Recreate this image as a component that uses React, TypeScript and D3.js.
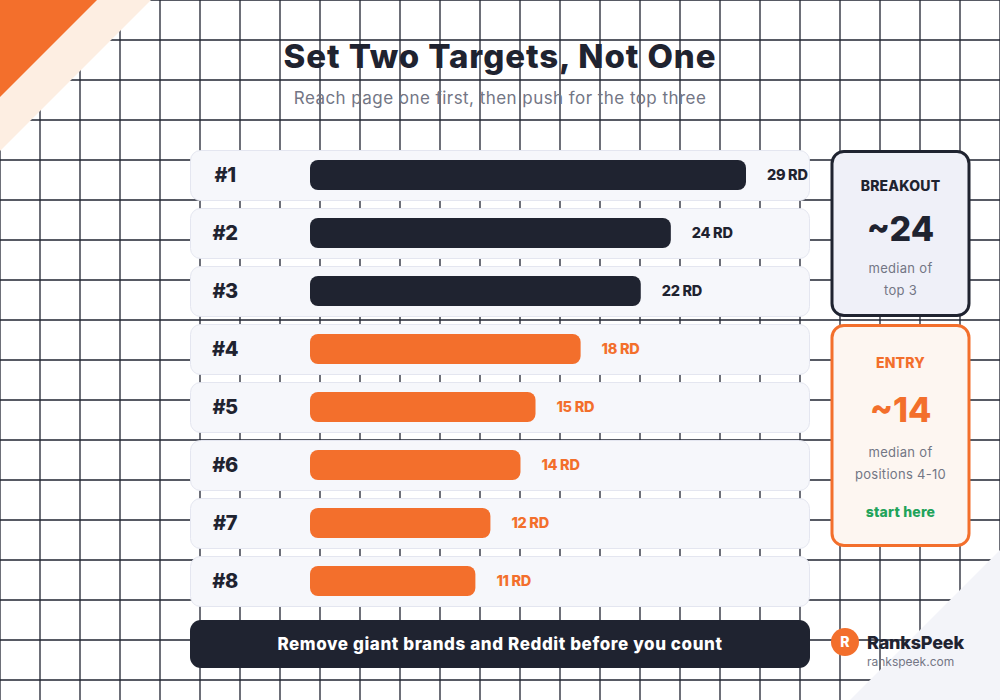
import React from "react";
import * as d3 from "d3";

const ranks = ["#1", "#2", "#3", "#4", "#5", "#6", "#7", "#8"];
const rdValues = [29, 24, 22, 18, 15, 14, 12, 11];
const groups = ["top", "top", "top", "entry", "entry", "entry", "entry", "entry"];
const valueSuffix = " RD";

const title = "Set Two Targets, Not One";
const subtitle = "Reach page one first, then push for the top three";
const footerText = "Remove giant brands and Reddit before you count";

const breakoutLabel = "BREAKOUT";
const breakoutValue = "~24";
const breakoutNote = ["median of", "top 3"];
const entryLabel = "ENTRY";
const entryValue = "~14";
const entryNote = ["median of", "positions 4-10"];
const entryCta = "start here";

const brandName = "RanksPeek";
const brandUrl = "rankspeek.com";

const DARK = "#1f2330";
const ORANGE = "#f36f2c";
const FONT = "Inter, 'Noto Sans', sans-serif";

export default function App() {
  const W = 1000;
  const H = 700;
  const x = d3.scaleLinear().domain([0, 29]).range([310, 746]);
  const y = d3
    .scaleBand<string>()
    .domain(ranks)
    .range([150, 606])
    .paddingInner(8 / 58)
    .paddingOuter(0);
  const bandH = y.bandwidth();

  const gridX = d3.range(0, W + 1, 40);
  const gridY = d3.range(0, H + 1, 40);

  return (
    <svg
      width={W}
      height={H}
      style={{ position: "absolute", left: 0, top: 0, background: "#fff" }}
      fontFamily={FONT}
    >
      <rect x={0} y={0} width={W} height={H} fill="#ffffff" />
      <g stroke={DARK} strokeWidth={1.3}>
        {gridX.map((gx) => (
          <line key={"gx" + gx} x1={gx} x2={gx} y1={0} y2={H} />
        ))}
        {gridY.map((gy) => (
          <line key={"gy" + gy} x1={0} x2={W} y1={gy} y2={gy} />
        ))}
      </g>
      {/* corner decorations */}
      <polygon points="0,0 151,0 0,151" fill="#fdeee2" />
      <polygon points="0,0 97,0 0,97" fill={ORANGE} />
      <polygon points={`${W},550 ${W},${H} 850,${H}`} fill="#f3f4f9" />

      {/* title */}
      <text x={500} y={68} textAnchor="middle" fontSize={33} fontWeight={800} fill={DARK} letterSpacing={0.9}>
        {title}
      </text>
      <text x={500} y={104} textAnchor="middle" fontSize={17} fill="#737685" letterSpacing={0.45}>
        {subtitle}
      </text>

      {/* rows */}
      {ranks.map((r, i) => {
        const top = y(r) as number;
        const cy = top + bandH / 2;
        const color = groups[i] === "top" ? DARK : ORANGE;
        const xEnd = x(rdValues[i]);
        return (
          <g key={r}>
            <rect x={190.5} y={top + 0.5} width={619} height={bandH} rx={10} fill="#f6f7fb" stroke="#e4e6f0" strokeWidth={1} />
            <text x={225} y={cy} dy="0.36em" textAnchor="middle" fontSize={20} fontWeight={800} fill={DARK} letterSpacing={-0.5}>
              {r}
            </text>
            <rect x={x(0)} y={cy - 15} width={xEnd - x(0)} height={30} rx={8} fill={color} />
            <text x={xEnd + 21} y={cy} dy="0.36em" fontSize={14.5} fontWeight={800} fill={color} letterSpacing={-0.3}>
              {rdValues[i] + valueSuffix}
            </text>
          </g>
        );
      })}

      {/* breakout box */}
      <rect x={832} y={151.5} width={137} height={164} rx={12} fill="#eff0f8" stroke={DARK} strokeWidth={3} />
      <text x={900.5} y={186} dy="0.36em" textAnchor="middle" fontSize={14} fontWeight={800} fill={DARK} letterSpacing={0.2}>
        {breakoutLabel}
      </text>
      <text x={900.5} y={229} dy="0.36em" textAnchor="middle" fontSize={34} fontWeight={800} fill={DARK}>
        {breakoutValue}
      </text>
      {breakoutNote.map((t, i) => (
        <text key={t} x={900.5} y={268 + i * 22} dy="0.36em" textAnchor="middle" fontSize={13} fill="#737685" letterSpacing={0.3}>
          {t}
        </text>
      ))}

      {/* entry box */}
      <rect x={832} y={325.5} width={137} height={220} rx={12} fill="#fdf6f1" stroke={ORANGE} strokeWidth={3} />
      <text x={900.5} y={363} dy="0.36em" textAnchor="middle" fontSize={14} fontWeight={800} fill={ORANGE} letterSpacing={0.2}>
        {entryLabel}
      </text>
      <text x={900.5} y={410} dy="0.36em" textAnchor="middle" fontSize={34} fontWeight={800} fill={ORANGE}>
        {entryValue}
      </text>
      {entryNote.map((t, i) => (
        <text key={t} x={900.5} y={452 + i * 22} dy="0.36em" textAnchor="middle" fontSize={13} fill="#737685" letterSpacing={0.3}>
          {t}
        </text>
      ))}
      <text x={900.5} y={512} dy="0.36em" textAnchor="middle" fontSize={14} fontWeight={800} fill="#21a35a" letterSpacing={0.2}>
        {entryCta}
      </text>

      {/* footer */}
      <rect x={190} y={620} width={620} height={48} rx={11} fill={DARK} />
      <text x={500} y={644} dy="0.36em" textAnchor="middle" fontSize={17} fontWeight={800} fill="#ffffff" letterSpacing={0.6}>
        {footerText}
      </text>

      {/* brand */}
      <circle cx={845} cy={642} r={14} fill={ORANGE} />
      <text x={845} y={642} dy="0.36em" textAnchor="middle" fontSize={14} fontWeight={800} fill="#ffffff">
        R
      </text>
      <text x={867} y={649} fontSize={18} fontWeight={800} fill={DARK} letterSpacing={-0.2}>
        {brandName}
      </text>
      <text x={867} y={666} fontSize={12} fill="#737685">
        {brandUrl}
      </text>
    </svg>
  );
}
